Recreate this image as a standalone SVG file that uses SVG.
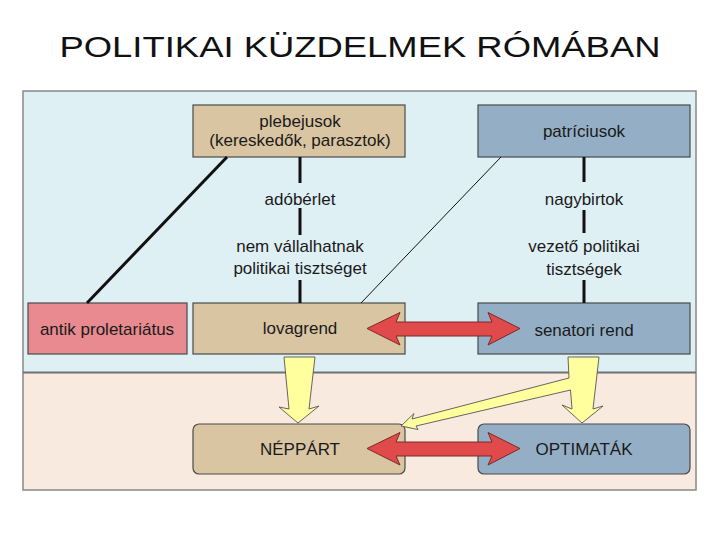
<svg xmlns="http://www.w3.org/2000/svg" width="720" height="540" viewBox="0 0 720 540">
<style>
.t{font-family:"Liberation Sans",Arial,sans-serif;font-size:17px;fill:#1a1a1a;text-anchor:middle}
.tan{fill:#d9c5a2;stroke:#4a4a4a;stroke-width:1.2}
.blue{fill:#94afc5;stroke:#4a4a4a;stroke-width:1.2}
.pink{fill:#e88a8f;stroke:#4a4a4a;stroke-width:1.2}
.vl{stroke:#111;stroke-width:3;fill:none}
.red{fill:#e04a4a;stroke:#7a2a2a;stroke-width:1}
.yel{fill:#ffff9e;stroke:#555;stroke-width:0.9;stroke-linejoin:miter}
</style>
<rect width="720" height="540" fill="#fff"/>
<text x="360" y="57" font-family="Liberation Sans, Arial, sans-serif" font-size="29" fill="#111" text-anchor="middle" textLength="601" lengthAdjust="spacingAndGlyphs">POLITIKAI KÜZDELMEK RÓMÁBAN</text>
<g id="panel">
<rect x="23" y="91" width="673" height="281" fill="#dff0f5"/>
<rect x="23" y="372" width="673" height="118" fill="#f9eadf"/>
<rect x="23" y="91" width="673" height="399" fill="none" stroke="#888" stroke-width="1.5"/>
<line x1="23" y1="372.5" x2="696" y2="372.5" stroke="#707070" stroke-width="2"/>
</g>
<g id="plebejusok">
<rect class="tan" x="193" y="105" width="212" height="52"/>
<text class="t" x="300" y="127">plebejusok</text>
<text class="t" x="300" y="146">(kereskedők, parasztok)</text>
</g>
<g id="patriciusok">
<rect class="blue" x="478" y="105" width="212" height="52"/>
<text class="t" x="584" y="137">patríciusok</text>
</g>
<g id="label-adoberlet"><text class="t" x="300" y="205">adóbérlet</text></g>
<g id="label-nem"><text class="t" x="300" y="252">nem vállalhatnak</text><text class="t" x="300" y="274">politikai tisztséget</text></g>
<g id="label-nagybirtok"><text class="t" x="584" y="205">nagybirtok</text></g>
<g id="label-vezeto"><text class="t" x="584" y="252">vezető politikai</text><text class="t" x="584" y="275">tisztségek</text></g>
<g id="antik">
<rect class="pink" x="28" y="303" width="159" height="51"/>
<text class="t" x="107" y="335">antik proletariátus</text>
</g>
<g id="lovagrend">
<rect class="tan" x="193" y="303" width="212" height="51"/>
<text class="t" x="300" y="334">lovagrend</text>
</g>
<g id="senatori">
<rect class="blue" x="478" y="303" width="212" height="51"/>
<text class="t" x="584" y="336">senatori rend</text>
</g>
<g id="neppart">
<rect class="tan" x="193" y="424" width="212" height="50" rx="6"/>
<text class="t" x="300" y="455">NÉPPÁRT</text>
</g>
<g id="optimatak">
<rect class="blue" x="478" y="424" width="212" height="50" rx="6"/>
<text class="t" x="584" y="455">OPTIMATÁK</text>
</g>
<g id="connectors">
<line x1="227" y1="157" x2="87" y2="303" stroke="#111" stroke-width="3"/>
<line x1="501" y1="157" x2="361" y2="303" stroke="#111" stroke-width="1"/>
<path class="vl" d="M300,157V183M300,208V235M300,280V303"/>
<path class="vl" d="M584,157V182M584,210V233M584,280V303"/>
<path class="red" d="M367,328.5 L400,312.5 L396,322 L492,322 L488,312.5 L520,328.5 L488,345 L492,336 L396,336 L400,345 Z"/>
<path class="red" d="M367,448.5 L400,432.5 L396,442 L492,442 L488,432.5 L520,448.5 L488,465 L492,456 L396,456 L400,465 Z"/>
<path class="yel" d="M284,357 L315,357 L309,409 L319,406 L298,423 L279,407 L289,409 Z"/>
<path class="yel" d="M568,357 L599,357 L593,409 L603,406 L582,423 L562,405 L572,409 L570.5,390 L416,426 L418,429.5 L401,426 L414,413.5 L412,419 L569,378 Z"/>
</g>
</svg>
